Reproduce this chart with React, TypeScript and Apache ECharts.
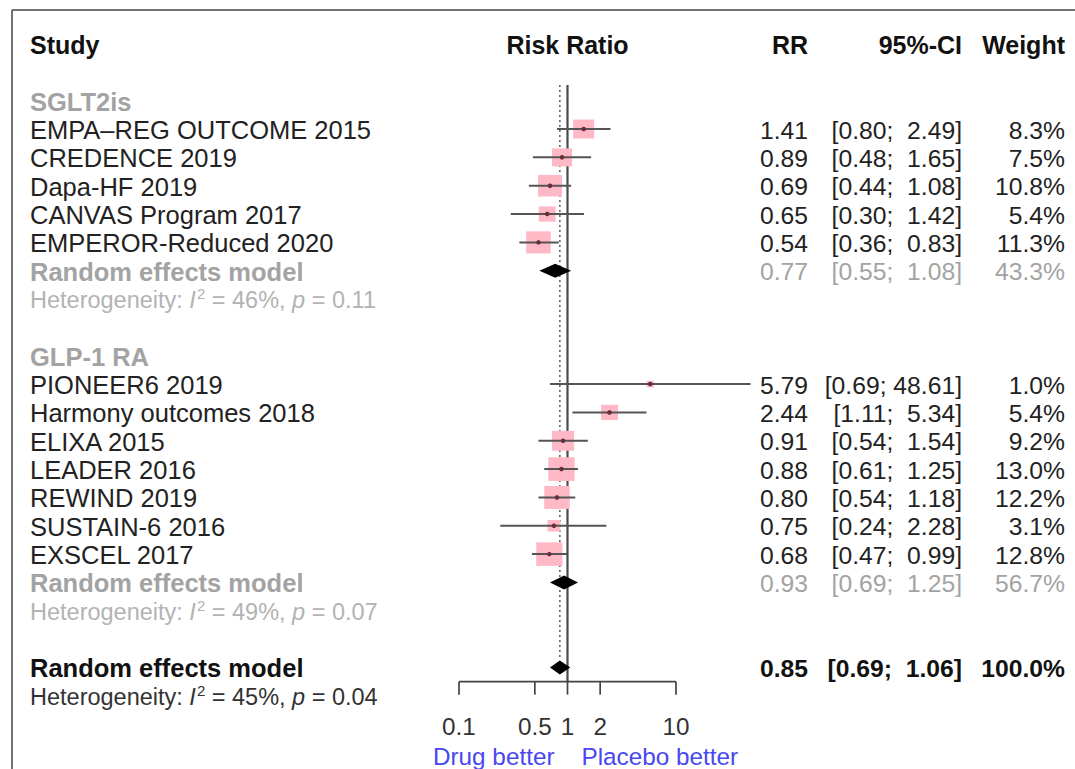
import React, { useEffect, useRef } from 'react';
import * as echarts from 'echarts';

// ---------- data ----------
const headers = ['Study', 'Risk Ratio', 'RR', '95%-CI', 'Weight'];
const groupNames = ['SGLT2is', 'GLP-1 RA'];

const sgltStudies = ['EMPA–REG OUTCOME 2015', 'CREDENCE 2019', 'Dapa-HF 2019', 'CANVAS Program 2017', 'EMPEROR-Reduced 2020'];
const sgltRR = [1.41, 0.89, 0.69, 0.65, 0.54];
const sgltLower = [0.8, 0.48, 0.44, 0.3, 0.36];
const sgltUpper = [2.49, 1.65, 1.08, 1.42, 0.83];
const sgltWeight = [8.3, 7.5, 10.8, 5.4, 11.3];
const sgltPooled = [0.77, 0.55, 1.08, 43.3];
const sgltHet = [46, '0.11'];

const glpStudies = ['PIONEER6 2019', 'Harmony outcomes 2018', 'ELIXA 2015', 'LEADER 2016', 'REWIND 2019', 'SUSTAIN-6 2016', 'EXSCEL 2017'];
const glpRR = [5.79, 2.44, 0.91, 0.88, 0.8, 0.75, 0.68];
const glpLower = [0.69, 1.11, 0.54, 0.61, 0.54, 0.24, 0.47];
const glpUpper = [48.61, 5.34, 1.54, 1.25, 1.18, 2.28, 0.99];
const glpWeight = [1.0, 5.4, 9.2, 13.0, 12.2, 3.1, 12.8];
const glpPooled = [0.93, 0.69, 1.25, 56.7];
const glpHet = [49, '0.07'];

const overallPooled = [0.85, 0.69, 1.06, 100.0];
const overallHet = [45, '0.04'];

const axisTicks = [0.1, 0.5, 1, 2, 10];
const sideLabels = ['Drug better', 'Placebo better'];

// ---------- layout ----------
const FONT = '"Liberation Sans", Arial, Helvetica, sans-serif';
const FS_NAME = 25.5;
const FS_NUM = 24.7;
const FS_HEAD = 25;
const FS_HET = 23.5;
const FS_AXIS = 24.3;
const COL = { study: 30, rr: 808, ci: 962, weight: 1065 };
const C_DARK = '#222222';
const C_GRAY = '#a3a3a3';
const C_HET = '#b3b3b3';

type TextRow = {
  text: string;
  x: number | 'ref';
  dx?: number;
  row: number;
  align: 'left' | 'center' | 'right';
  color: string;
  bold?: boolean;
  size: number;
  rich?: boolean;
};

const fmt2 = (v: number) => v.toFixed(2);
const fmtCI = (lo: number, hi: number) => `[${fmt2(lo)};${hi < 10 ? ' \u00a0' : ' '}${fmt2(hi)}]`;
const fmtW = (w: number) => `${w.toFixed(1)}%`;
const hetText = (h: (number | string)[]) => `Heterogeneity: {i|I}{s|2} = ${h[0]}%, {i|p} = ${h[1]}`;

const textRows: TextRow[] = [];
const studyData: number[][] = [];
const diamondData: number[][] = [];

textRows.push({ text: headers[0], x: COL.study, row: 0, align: 'left', color: '#111', bold: true, size: FS_HEAD });
textRows.push({ text: headers[1], x: 'ref', row: 0, align: 'center', color: '#111', bold: true, size: FS_HEAD });
textRows.push({ text: headers[2], x: COL.rr, row: 0, align: 'right', color: '#111', bold: true, size: FS_HEAD });
textRows.push({ text: headers[3], x: COL.ci, row: 0, align: 'right', color: '#111', bold: true, size: FS_HEAD });
textRows.push({ text: headers[4], x: COL.weight, row: 0, align: 'right', color: '#111', bold: true, size: FS_HEAD });

const groups = [
  { name: groupNames[0], studies: sgltStudies, rr: sgltRR, lo: sgltLower, hi: sgltUpper, w: sgltWeight, pooled: sgltPooled, het: sgltHet },
  { name: groupNames[1], studies: glpStudies, rr: glpRR, lo: glpLower, hi: glpUpper, w: glpWeight, pooled: glpPooled, het: glpHet },
];

let row = 2;
groups.forEach((g) => {
  textRows.push({ text: g.name, x: COL.study, row, align: 'left', color: C_GRAY, bold: true, size: FS_NAME });
  row++;
  g.studies.forEach((s, i) => {
    textRows.push({ text: s, x: COL.study, row, align: 'left', color: C_DARK, size: FS_NAME });
    textRows.push({ text: fmt2(g.rr[i]), x: COL.rr, row, align: 'right', color: C_DARK, size: FS_NUM });
    textRows.push({ text: fmtCI(g.lo[i], g.hi[i]), x: COL.ci, row, align: 'right', color: C_DARK, size: FS_NUM });
    textRows.push({ text: fmtW(g.w[i]), x: COL.weight, row, align: 'right', color: C_DARK, size: FS_NUM });
    studyData.push([g.rr[i], g.lo[i], g.hi[i], g.w[i], row]);
    row++;
  });
  textRows.push({ text: 'Random effects model', x: COL.study, row, align: 'left', color: C_GRAY, bold: true, size: FS_NAME });
  textRows.push({ text: fmt2(g.pooled[0]), x: COL.rr, row, align: 'right', color: C_GRAY, size: FS_NUM });
  textRows.push({ text: fmtCI(g.pooled[1], g.pooled[2]), x: COL.ci, row, align: 'right', color: C_GRAY, size: FS_NUM });
  textRows.push({ text: fmtW(g.pooled[3]), x: COL.weight, row, align: 'right', color: C_GRAY, size: FS_NUM });
  diamondData.push([g.pooled[0], g.pooled[1], g.pooled[2], row, 0]);
  row++;
  textRows.push({ text: hetText(g.het), x: COL.study, row, align: 'left', color: C_HET, size: FS_HET, rich: true });
  row += 2;
});

const overallRow = row; // 22
textRows.push({ text: 'Random effects model', x: COL.study, row: overallRow, align: 'left', color: '#111', bold: true, size: FS_NAME });
textRows.push({ text: fmt2(overallPooled[0]), x: COL.rr, row: overallRow, align: 'right', color: '#111', bold: true, size: FS_NUM });
textRows.push({ text: fmtCI(overallPooled[1], overallPooled[2]), x: COL.ci, row: overallRow, align: 'right', color: '#111', bold: true, size: FS_NUM });
textRows.push({ text: fmtW(overallPooled[3]), x: COL.weight, row: overallRow, align: 'right', color: '#111', bold: true, size: FS_NUM });
diamondData.push([overallPooled[0], overallPooled[1], overallPooled[2], overallRow, 1]);
textRows.push({ text: hetText(overallHet), x: COL.study, row: overallRow + 1, align: 'left', color: '#333', size: FS_HET, rich: true });

const axisRow = overallRow + 0.5;
const tickLabelRow = overallRow + 2.1;
const sideRow = overallRow + 3.1;
textRows.push({ text: sideLabels[0], x: 'ref', dx: -13, row: sideRow, align: 'right', color: '#4848f0', size: FS_AXIS });
textRows.push({ text: sideLabels[1], x: 'ref', dx: 14, row: sideRow, align: 'left', color: '#4848f0', size: FS_AXIS });

const ROW0 = 44;
const DY = 28.34;
const Y_MAX = axisRow;

export default function App() {
  const ref = useRef<HTMLDivElement>(null);
  useEffect(() => {
    if (!ref.current) return;
    const chart = echarts.init(ref.current, null, { renderer: 'svg' });

    const richFor = (size: number, color: string) => ({
      i: { fontStyle: 'italic', fontSize: size, fontFamily: FONT, fill: color },
      s: { fontSize: Math.round(size * 0.62), fontFamily: FONT, fill: color, padding: [0, 0, Math.round(size * 0.55), 1] },
    });

    const option: any = {
      animation: false,
      backgroundColor: '#ffffff',
      grid: { left: 459, right: 399, top: ROW0, bottom: 769 - (ROW0 + Y_MAX * DY) },
      xAxis: { type: 'log', logBase: 10, min: 0.1, max: 10, show: false },
      yAxis: { type: 'value', min: 0, max: Y_MAX, inverse: true, show: false },
      graphic: [
        { type: 'line', shape: { x1: 12, y1: 10, x2: 1075, y2: 10 }, style: { stroke: '#444', lineWidth: 1.5 } },
        { type: 'line', shape: { x1: 12, y1: 10, x2: 12, y2: 769 }, style: { stroke: '#444', lineWidth: 1.5 } },
      ],
      series: [
        // reference lines (no effect at 1, pooled estimate dotted)
        {
          type: 'custom',
          clip: false,
          encode: { x: 0, y: 1 },
          data: [[1, 1.45, 0], [overallPooled[0], 1.45, 1]],
          renderItem: (params: any, api: any) => {
            const v = api.value(0);
            const kind = api.value(2);
            const top = api.coord([v, api.value(1)]);
            const bot = api.coord([v, kind === 0 ? axisRow : overallRow - 0.35]);
            return {
              type: 'line',
              shape: { x1: top[0], y1: top[1], x2: bot[0], y2: bot[1] },
              style: kind === 0
                ? { stroke: '#4a4a4a', lineWidth: 2.2 }
                : { stroke: '#666', lineWidth: 1.6, lineDash: [2, 3] },
            };
          },
        },
        // axis
        {
          type: 'custom',
          clip: false,
          encode: { x: 0, y: 1 },
          data: axisTicks.map((t) => [t, axisRow]),
          renderItem: (params: any, api: any) => {
            const p = api.coord([api.value(0), api.value(1)]);
            const lab = api.coord([api.value(0), tickLabelRow]);
            const children: any[] = [
              { type: 'line', shape: { x1: p[0], y1: p[1], x2: p[0], y2: p[1] + 13 }, style: { stroke: '#444', lineWidth: 1.7 } },
              {
                type: 'text', x: lab[0], y: lab[1],
                style: { text: String(axisTicks[params.dataIndex]), fill: '#333', fontSize: FS_AXIS, fontFamily: FONT, align: 'center', verticalAlign: 'middle', textAlign: 'center', textVerticalAlign: 'middle' },
              },
            ];
            if (params.dataIndex === 0) {
              const a = api.coord([axisTicks[0], axisRow]);
              const b = api.coord([axisTicks[axisTicks.length - 1], axisRow]);
              children.push({ type: 'line', shape: { x1: a[0], y1: a[1], x2: b[0], y2: b[1] }, style: { stroke: '#444', lineWidth: 1.7 } });
            }
            return { type: 'group', children };
          },
        },
        // studies
        {
          type: 'custom',
          clip: false,
          encode: { x: 0, y: 4 },
          data: studyData,
          renderItem: (params: any, api: any) => {
            const rr = api.value(0), lo = api.value(1), hi = api.value(2), w = api.value(3), r = api.value(4);
            const c = api.coord([rr, r]);
            const l = api.coord([lo, r]);
            const h = api.coord([hi, r]);
            const s = 7.3 * Math.sqrt(w);
            const sh = s * 0.9;
            return {
              type: 'group',
              children: [
                { type: 'rect', shape: { x: c[0] - s / 2, y: c[1] - sh / 2, width: s, height: sh }, style: { fill: '#ffb8c6' } },
                { type: 'line', shape: { x1: l[0], y1: c[1], x2: h[0], y2: c[1] }, style: { stroke: '#555', lineWidth: 2 } },
                { type: 'circle', shape: { cx: c[0], cy: c[1], r: 2.3 }, style: { fill: '#6b2d3c' } },
              ],
            };
          },
        },
        // diamonds
        {
          type: 'custom',
          clip: false,
          encode: { x: 0, y: 3 },
          data: diamondData,
          renderItem: (params: any, api: any) => {
            const rr = api.value(0), lo = api.value(1), hi = api.value(2), r = api.value(3);
            const c = api.coord([rr, r]);
            const l = api.coord([lo, r]);
            const h = api.coord([hi, r]);
            const hh = 7;
            return {
              type: 'polygon',
              shape: { points: [[l[0], c[1]], [c[0], c[1] - hh], [h[0], c[1]], [c[0], c[1] + hh]] },
              style: { fill: '#000' },
            };
          },
        },
        // texts
        {
          type: 'custom',
          clip: false,
          encode: { x: 0, y: 1 },
          data: textRows.map((t) => [1, t.row]),
          renderItem: (params: any, api: any) => {
            const t = textRows[params.dataIndex];
            const p = api.coord([1, t.row]);
            const x = t.x === 'ref' ? p[0] + (t.dx || 0) : t.x;
            const style: any = {
              text: t.text,
              fill: t.color,
              fontSize: t.size,
              fontFamily: FONT,
              fontWeight: t.bold ? 'bold' : 'normal',
              align: t.align,
              verticalAlign: 'middle',
              textAlign: t.align,
              textVerticalAlign: 'middle',
            };
            if (t.rich) style.rich = richFor(t.size, t.color);
            return { type: 'text', x, y: p[1] + 1, style };
          },
        },
      ],
    };
    chart.setOption(option);
    return () => chart.dispose();
  }, []);

  return (
    <div
      ref={ref}
      style={{ position: 'fixed', left: 0, top: 0, width: 1075, height: 769, background: '#fff' }}
    />
  );
}
